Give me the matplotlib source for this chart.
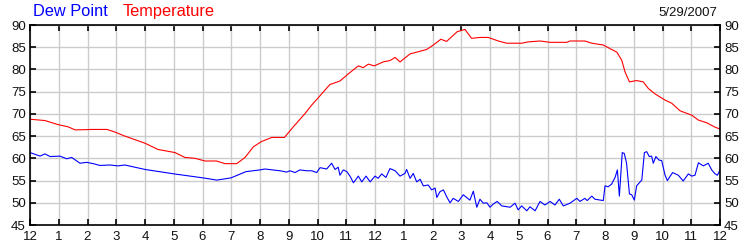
import matplotlib
matplotlib.use('Agg')
import matplotlib.pyplot as plt
import numpy as np

plt.rcParams['font.family'] = ['Liberation Sans', 'DejaVu Sans']

# hours after midnight, 5/29/2007
temp_hours = [0.00, 0.52, 0.97, 1.32, 1.57, 2.16, 2.68, 2.96, 3.30, 4.00, 4.45, 5.04, 5.39,
              5.74, 6.09, 6.49, 6.78, 7.19, 7.48, 7.77, 8.06, 8.41, 8.85, 9.16, 9.57, 9.80,
              10.09, 10.43, 10.78, 11.07, 11.42, 11.59, 11.77, 11.97, 12.29, 12.52, 12.70,
              12.87, 13.22, 13.57, 13.80, 14.03, 14.29, 14.49, 14.86, 15.13, 15.36, 15.65,
              15.94, 16.29, 16.58, 17.10, 17.33, 17.74, 18.09, 18.67, 18.78, 19.30, 19.54,
              19.94, 20.17, 20.41, 20.58, 20.70, 20.85, 21.10, 21.33, 21.51, 21.74, 22.09,
              22.32, 22.61, 23.02, 23.25, 23.54, 23.83, 24.00]
temp_vals = [68.8, 68.5, 67.6, 67.1, 66.4, 66.5, 66.5, 65.9, 65.0, 63.4, 62.0, 61.3, 60.2,
             60.0, 59.4, 59.4, 58.8, 58.8, 60.2, 62.6, 63.8, 64.7, 64.7, 67.1, 70.1, 72.0,
             74.1, 76.6, 77.4, 79.0, 80.8, 80.4, 81.2, 80.8, 81.7, 82.0, 82.7,
             81.7, 83.5, 84.1, 84.5, 85.5, 86.8, 86.3, 88.5, 89.0, 87.0, 87.2,
             87.2, 86.4, 85.9, 85.9, 86.2, 86.4, 86.1, 86.1, 86.4, 86.4, 85.9,
             85.5, 84.7, 83.9, 82.1, 79.4, 77.2, 77.5, 77.2, 75.7, 74.5, 73.1,
             72.4, 70.7, 69.7, 68.6, 68.0, 67.0, 66.6]

dew_hours = [0.00, 0.35, 0.52, 0.70, 1.04, 1.28, 1.45, 1.74, 1.97, 2.20, 2.43, 2.78, 3.06,
             3.30, 4.00, 5.01, 6.02, 6.50, 6.99, 7.51, 8.00, 8.17, 8.70, 8.93, 9.04, 9.22,
             9.39, 9.62, 9.80, 9.97, 10.09, 10.32, 10.49, 10.61, 10.72, 10.78, 10.90, 11.02,
             11.13, 11.25, 11.42, 11.54, 11.69, 11.83, 12.00, 12.11, 12.23, 12.38, 12.52,
             12.70, 12.87, 13.04, 13.10, 13.22, 13.33, 13.45, 13.57, 13.68, 13.85, 13.97,
             14.09, 14.15, 14.26, 14.38, 14.49, 14.61, 14.72, 14.90, 15.07, 15.30, 15.42,
             15.54, 15.65, 15.77, 15.89, 16.00, 16.11, 16.25, 16.41, 16.70, 16.87, 16.98,
             17.10, 17.28, 17.39, 17.57, 17.74, 17.91, 18.09, 18.26, 18.41, 18.55, 18.78,
             19.02, 19.13, 19.30, 19.38, 19.54, 19.65, 19.94, 20.00, 20.11, 20.23, 20.35,
             20.43, 20.50, 20.60, 20.67, 20.75, 20.85, 20.93, 21.02, 21.10, 21.22, 21.28,
             21.37, 21.45, 21.54, 21.62, 21.68, 21.77, 21.88, 21.97, 22.09, 22.17, 22.35,
             22.55, 22.72, 22.90, 23.02, 23.13, 23.25, 23.42, 23.59, 23.71, 23.83, 23.91,
             24.00]
dew_vals = [61.3, 60.5, 61.0, 60.4, 60.5, 59.9, 60.2, 58.9, 59.1, 58.8, 58.4, 58.5, 58.3,
            58.5, 57.5, 56.5, 55.6, 55.1, 55.6, 57.0, 57.4, 57.6, 57.2, 56.9, 57.2, 56.8,
            57.4, 57.2, 57.2, 56.8, 57.9, 57.6, 58.9, 57.5, 58.0, 56.2, 57.4, 57.0,
            56.0, 54.5, 56.0, 54.7, 56.0, 54.7, 56.0, 55.5, 56.5, 55.7, 57.7,
            57.2, 56.0, 56.6, 57.5, 55.5, 56.6, 54.7, 55.3, 53.8, 54.0, 52.9,
            53.3, 51.2, 52.5, 52.9, 51.4, 50.0, 51.0, 50.3, 51.8, 50.6, 52.6,
            49.0, 50.8, 49.9, 50.0, 49.0, 49.7, 50.3, 49.3, 49.0, 49.9, 48.4,
            49.3, 48.2, 49.1, 48.2, 50.3, 49.5, 50.3, 49.5, 50.8, 49.3, 49.9,
            51.0, 50.3, 51.0, 50.5, 51.5, 50.8, 50.5, 53.8, 53.6, 54.2, 55.7,
            57.4, 51.5, 61.3, 61.1, 58.9, 52.0, 51.8, 50.6, 53.8, 54.7, 55.1,
            61.3, 61.5, 60.4, 60.5, 58.9, 60.4, 59.6, 59.5, 56.2, 55.0, 56.8,
            56.2, 54.9, 56.5, 56.0, 56.2, 59.0, 58.3, 58.9, 57.4, 56.5, 56.2,
            57.4]

hour_labels = ['12', '1', '2', '3', '4', '5', '6', '7', '8', '9', '10', '11',
               '12', '1', '2', '3', '4', '5', '6', '7', '8', '9', '10', '11', '12']
y_ticks = [45, 50, 55, 60, 65, 70, 75, 80, 85, 90]
date_str = '5/29/2007'

fig = plt.figure(figsize=(7.5, 2.5), dpi=100)
ax = fig.add_axes([0.04, 0.1, 0.92, 0.8])

ax.plot(dew_hours, dew_vals, color='#0000ff', lw=0.8)
ax.plot(temp_hours, temp_vals, color='#ff0000', lw=0.8)

ax.set_xlim(0, 24)
ax.set_ylim(45, 90)
ax.set_xticks(np.arange(25))
ax.set_xticklabels(hour_labels)
ax.set_yticks(y_ticks)
ax.grid(True, color='#cccccc', lw=1)
ax.set_axisbelow(True)
for s in ax.spines.values():
    s.set_linewidth(1.2)
ax.tick_params(axis='both', direction='in', length=4, width=1.2, labelsize=9.5,
               labelcolor='#111111', top=True, right=True, labelright=True)
ax.tick_params(axis='y', pad=3)
ax.tick_params(axis='x', pad=4)

fig.text(0.044, 0.935, 'Dew Point', color='#0000ff', fontsize=11.8, va='baseline')
fig.text(0.164, 0.935, 'Temperature', color='#ff0000', fontsize=11.8, va='baseline')
fig.text(0.957, 0.935, date_str, color='#111111', fontsize=9.5, ha='right', va='baseline')

fig.savefig('out.png', dpi=100)
